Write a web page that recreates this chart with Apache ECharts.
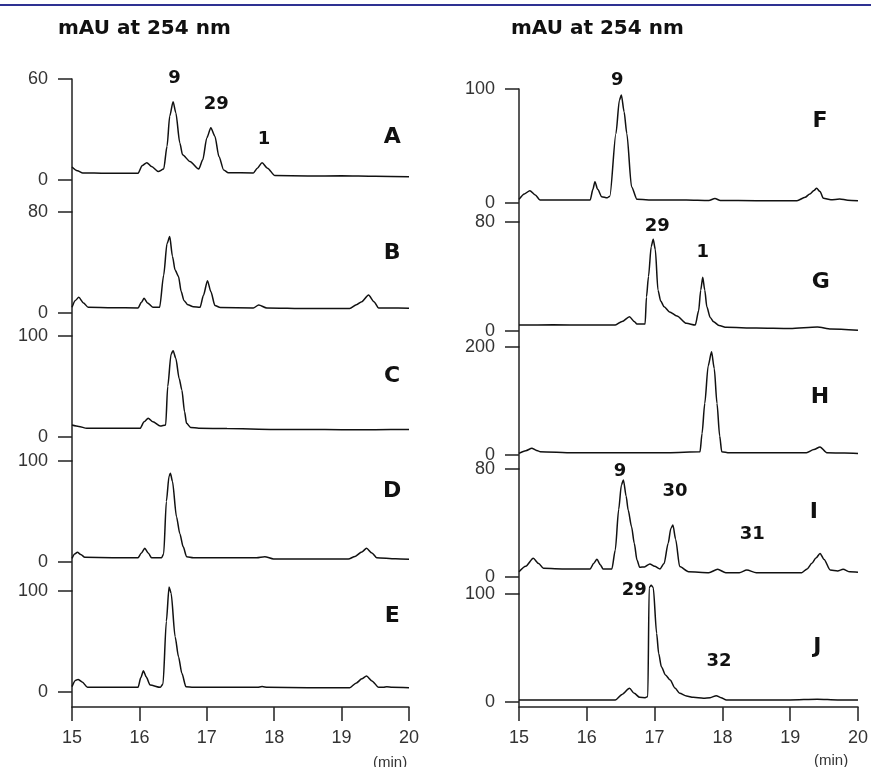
<!DOCTYPE html>
<html>
<head>
<meta charset="utf-8">
<script src="https://cdn.jsdelivr.net/npm/echarts@6/dist/echarts.min.js"></script>
<style>
  html, body { margin: 0; padding: 0; background: #fff; }
  #main { width: 871px; height: 767px; }
</style>
</head>
<body>
<div id="main"></div>
<script>
// retention time (min) and absorbance (mAU at 254 nm)
const timeA = [15.00, 15.08, 15.16, 15.5, 15.98, 16.04, 16.11, 16.18, 16.28, 16.36, 16.41, 16.45, 16.50, 16.54, 16.60, 16.64, 16.75, 16.88, 16.94, 17.00, 17.06, 17.12, 17.18, 17.25, 17.32, 17.69, 17.75, 17.82, 17.90, 18.01, 18.5, 19.0, 19.5, 20.0];
const absA  = [7.7, 5.5, 4.2, 4.0, 4.0, 8.5, 10.3, 8.0, 5.0, 6.5, 20, 38, 46.5, 40, 22, 15, 11, 6.5, 12, 25, 31, 26, 14, 6, 4.3, 4.2, 7, 10.3, 7, 2.6, 2.4, 2.5, 2.2, 2.0];

const timeB = [15.00, 15.05, 15.10, 15.17, 15.24, 15.6, 15.98, 16.03, 16.07, 16.12, 16.20, 16.30, 16.36, 16.41, 16.45, 16.49, 16.53, 16.58, 16.62, 16.66, 16.72, 16.80, 16.90, 16.95, 17.01, 17.06, 17.12, 17.20, 17.69, 17.77, 17.89, 18.5, 19.12, 19.22, 19.30, 19.40, 19.48, 19.55, 19.7, 20.0];
const absB  = [4.5, 10, 12.4, 8, 4.5, 4.2, 4.0, 8.5, 11.6, 8, 4.5, 4.5, 30, 55, 60.5, 45, 34, 29, 17, 10, 6.5, 5, 4.5, 14, 25.6, 17, 6, 4.3, 4.0, 6.3, 4.0, 3.5, 3.5, 6.5, 9, 14.3, 9, 4.0, 4.0, 3.8];

const timeC = [15.00, 15.10, 15.22, 15.6, 16.01, 16.07, 16.13, 16.20, 16.31, 16.39, 16.42, 16.47, 16.50, 16.54, 16.59, 16.63, 16.67, 16.70, 16.76, 16.88, 17.3, 18.0, 18.5, 19.0, 19.5, 20.0];
const absC  = [11.9, 10.5, 8.6, 8.6, 8.6, 15, 18.5, 15, 10.9, 12, 50, 82, 85.5, 78, 58, 46.5, 25, 13.5, 9.5, 8.6, 8.4, 7.5, 7.5, 7.2, 7.2, 7.5];

const timeD = [15.00, 15.04, 15.08, 15.13, 15.19, 15.6, 15.98, 16.03, 16.08, 16.13, 16.18, 16.33, 16.36, 16.40, 16.44, 16.46, 16.49, 16.55, 16.60, 16.65, 16.70, 16.8, 17.3, 17.74, 17.86, 17.99, 18.5, 19.10, 19.20, 19.30, 19.37, 19.45, 19.52, 19.8, 20.0];
const absD  = [3.6, 8, 9.6, 7.5, 4.6, 4.3, 4.3, 9, 13.5, 9, 4.3, 4.3, 8, 60, 85, 87.8, 80, 44.9, 28, 15, 5.3, 4.3, 4.3, 4.3, 5.3, 3, 3, 3, 5.5, 10, 13.5, 9, 4.3, 3.2, 2.7];

const timeE = [15.00, 15.05, 15.09, 15.15, 15.23, 15.6, 15.98, 16.02, 16.06, 16.10, 16.16, 16.31, 16.35, 16.40, 16.44, 16.47, 16.53, 16.58, 16.63, 16.69, 16.8, 17.3, 17.75, 17.82, 17.90, 18.5, 19.12, 19.22, 19.30, 19.37, 19.45, 19.55, 19.62, 19.67, 19.75, 20.0];
const absE  = [5.3, 11.5, 12.5, 10, 4.6, 4.6, 4.6, 14, 21, 15, 6.9, 4.6, 8, 70, 104, 98, 54.8, 35, 18.5, 5.3, 4.6, 4.6, 4.6, 5.5, 4.6, 4.3, 4.3, 9, 13, 15.8, 11, 4.6, 4.6, 5.3, 4.6, 4.3];

const timeF = [15.00, 15.08, 15.16, 15.24, 15.31, 15.7, 16.05, 16.09, 16.12, 16.16, 16.22, 16.30, 16.34, 16.43, 16.48, 16.51, 16.55, 16.59, 16.66, 16.74, 17.0, 17.47, 17.8, 17.89, 17.97, 18.5, 19.10, 19.22, 19.29, 19.35, 19.39, 19.44, 19.49, 19.6, 19.73, 19.85, 20.0];
const absF  = [3.2, 8, 10.8, 7, 2.6, 2.6, 2.6, 12, 18.7, 12, 5.5, 4.5, 6, 61, 90, 94.7, 80, 61, 14.3, 3.2, 2.6, 2.6, 2.2, 4, 2.2, 2, 2, 5, 7.9, 11, 12.9, 10, 4.1, 2.8, 3.5, 2.5, 2];

const timeG = [15.00, 15.5, 16.0, 16.42, 16.52, 16.63, 16.70, 16.74, 16.86, 16.88, 16.91, 16.95, 16.98, 17.01, 17.05, 17.09, 17.14, 17.22, 17.33, 17.47, 17.60, 17.65, 17.68, 17.71, 17.74, 17.77, 17.82, 17.87, 17.95, 18.06, 18.5, 19.0, 19.4, 19.6, 20.0];
const absG  = [4.4, 4.5, 4.4, 4.4, 7, 10.5, 7, 5.1, 5.1, 25, 40, 62, 67.3, 60, 30, 22, 17.8, 14, 11, 5.6, 4.4, 15, 30, 39.4, 30, 17.8, 10, 6.8, 4, 2.7, 2.2, 1.8, 3, 1.5, 0.5];

const timeH = [15.00, 15.10, 15.19, 15.25, 15.31, 15.8, 16.5, 17.2, 17.67, 17.70, 17.74, 17.79, 17.84, 17.88, 17.92, 17.96, 17.99, 18.1, 18.8, 19.24, 19.35, 19.44, 19.54, 19.8, 20.0];
const absH  = [3.1, 8, 12.4, 9, 6.2, 4.3, 4.3, 4.3, 6, 40, 95.7, 165, 191, 160, 95.7, 35, 6.2, 4.3, 4.3, 4.3, 10, 15, 4.3, 3.5, 3];

const timeI = [15.00, 15.10, 15.21, 15.29, 15.36, 15.7, 16.05, 16.10, 16.15, 16.20, 16.24, 16.37, 16.42, 16.47, 16.51, 16.54, 16.58, 16.61, 16.66, 16.70, 16.74, 16.78, 16.85, 16.93, 17.00, 17.08, 17.14, 17.20, 17.24, 17.27, 17.31, 17.37, 17.50, 17.8, 17.93, 18.05, 18.25, 18.36, 18.5, 19.17, 19.25, 19.32, 19.38, 19.44, 19.50, 19.59, 19.70, 19.78, 19.88, 20.0];
const absI  = [3.9, 8, 13.8, 10, 6.4, 6, 6, 10, 13.1, 9, 5.9, 6, 20, 50, 68, 71.9, 60, 49.6, 37.3, 25, 12.6, 7.2, 7.5, 9.6, 8, 6, 10, 25, 36, 38.5, 28, 7.7, 3.9, 3.2, 5.7, 3.2, 3.2, 5.2, 3.2, 3.2, 6, 10.1, 14, 17.5, 13, 5.2, 4.5, 5.7, 3.8, 3.5];

const timeJ = [15.00, 15.5, 16.0, 16.42, 16.52, 16.63, 16.70, 16.78, 16.86, 16.90, 16.92, 16.95, 16.98, 17.03, 17.06, 17.10, 17.16, 17.23, 17.30, 17.37, 17.47, 17.57, 17.72, 17.82, 17.91, 17.98, 18.06, 18.5, 19.0, 19.4, 19.7, 20.0];
const absJ  = [1.9, 1.9, 1.9, 1.9, 7, 12.7, 8, 4.3, 4, 5, 106, 108, 106, 63.6, 45, 32.7, 25, 20.4, 13, 8, 5.5, 4.3, 3.4, 4, 5.9, 4, 1.9, 1.9, 1.9, 2.5, 1.9, 1.9];

// y-axis top tick of each trace
const yMaxLeft  = [60, 80, 100, 100, 100];
const yMaxRight = [100, 80, 200, 80, 100];
const xTicks = [15, 16, 17, 18, 19, 20];

// trace letters [name, time, mAU]
const letters = [
  ['A', 19.75, 25.3], ['B', 19.75, 47.5], ['C', 19.75, 60.4], ['D', 19.75, 70.3], ['E', 19.75, 75.2],
  ['F', 19.44, 71.3], ['G', 19.45, 35.6], ['H', 19.44, 107.4], ['I', 19.35, 47.8], ['J', 19.40, 50.9]
];
// compound numbers on peaks, per trace [label, time, mAU]
const peakA = [['9', 16.52, 60.6], ['29', 17.14, 45.2], ['1', 17.85, 24.4]];
const peakB = [], peakC = [], peakD = [], peakE = [];
const peakF = [['9', 16.45, 107.6]];
const peakG = [['29', 17.04, 76.8], ['1', 17.71, 58]];
const peakH = [];
const peakI = [['9', 16.49, 78], ['30', 17.30, 63.8], ['31', 18.44, 31.8]];
const peakJ = [['29', 16.70, 103], ['32', 17.95, 37.7]];

const traces = [
  [timeA, absA, peakA], [timeB, absB, peakB], [timeC, absC, peakC], [timeD, absD, peakD], [timeE, absE, peakE],
  [timeF, absF, peakF], [timeG, absG, peakG], [timeH, absH, peakH], [timeI, absI, peakI], [timeJ, absJ, peakJ]
];

// layout, pixels
const colLeft = [72, 519];
const colWidth = [337, 339];
const tops = [[79, 212, 336, 461, 591], [89, 222, 347, 469, 594]];
const zeros = [[180, 313, 437, 562, 692], [203, 331, 455, 577, 702]];
const axisBottom = 707;

const ink = '#111';
const axisInk = '#222';
const labelFont = 'Liberation Sans, Arial, sans-serif';
const boldFont = 'DejaVu Sans, sans-serif';

const grid = [], xAxis = [], yAxis = [], series = [];

for (let c = 0; c < 2; c++) {
  for (let r = 0; r < 5; r++) {
    const i = c * 5 + r;
    const top = tops[c][r];
    const zero = zeros[c][r];
    const next = r < 4 ? tops[c][r + 1] : axisBottom;
    const yMax = (c === 0 ? yMaxLeft : yMaxRight)[r];
    const yMin = -yMax * (next - zero) / (zero - top);
    const isBottom = r === 4;

    grid.push({ left: colLeft[c], top: top, width: colWidth[c], height: next - top });

    xAxis.push({
      type: 'value', gridIndex: i, min: 15, max: 20, interval: 1,
      show: isBottom,
      axisLine: { show: true, onZero: false, lineStyle: { color: axisInk, width: 1.5 } },
      axisTick: { show: true, length: 14, lineStyle: { color: axisInk, width: 1.5 } },
      axisLabel: { show: true, margin: 22, fontSize: 18, color: '#333', fontFamily: labelFont,
        customValues: xTicks },
      splitLine: { show: false }
    });

    yAxis.push({
      type: 'value', gridIndex: i, min: yMin, max: yMax,
      axisLine: { show: true, onZero: false, lineStyle: { color: axisInk, width: 1.5 } },
      axisTick: { show: true, length: 14, customValues: [0, yMax], lineStyle: { color: axisInk, width: 1.5 } },
      axisLabel: { show: true, margin: 24, fontSize: 18, color: '#333', fontFamily: labelFont,
        customValues: [0, yMax] },
      splitLine: { show: false }
    });

    const tr = traces[i];
    series.push({
      type: 'line',
      xAxisIndex: i, yAxisIndex: i,
      data: tr[0].map((t, k) => [t, tr[1][k]]),
      showSymbol: false,
      symbol: 'none',
      smooth: 0.25,
      smoothMonotone: 'x',
      clip: false,
      silent: true,
      lineStyle: { color: ink, width: 1.5 }
    });

    // text labels: peak numbers and trace letter
    const marks = tr[2].map(p => ({ name: p[0], value: [p[1], p[2]], label: { fontSize: 18 } }));
    marks.push({ name: letters[i][0], value: [letters[i][1], letters[i][2]], label: { fontSize: 22 } });
    series.push({
      type: 'scatter',
      xAxisIndex: i, yAxisIndex: i,
      data: marks,
      symbolSize: 1,
      clip: false,
      silent: true,
      itemStyle: { color: 'rgba(0,0,0,0)', opacity: 1 },
      label: { show: true, position: 'inside', formatter: '{b}', color: ink,
        fontFamily: boldFont, fontWeight: 'bold' }
    });
  }
}

const chart = echarts.init(document.getElementById('main'), null, { renderer: 'canvas' });
chart.setOption({
  backgroundColor: '#fff',
  animation: false,
  title: [
    { text: 'mAU at 254 nm', left: 53, top: 14,
      textStyle: { fontFamily: boldFont, fontWeight: 'bold', fontSize: 20, color: ink } },
    { text: 'mAU at 254 nm', left: 506, top: 14,
      textStyle: { fontFamily: boldFont, fontWeight: 'bold', fontSize: 20, color: ink } },
    { text: '(min)', left: 368, top: 750,
      textStyle: { fontFamily: labelFont, fontWeight: 'normal', fontSize: 15, color: '#333' } },
    { text: '(min)', left: 809, top: 748,
      textStyle: { fontFamily: labelFont, fontWeight: 'normal', fontSize: 15, color: '#333' } }
  ],
  graphic: [
    { type: 'line', shape: { x1: 0, y1: 5, x2: 871, y2: 5 },
      style: { stroke: '#2e3192', lineWidth: 2 } }
  ],
  grid: grid,
  xAxis: xAxis,
  yAxis: yAxis,
  series: series
});
</script>
</body>
</html>
